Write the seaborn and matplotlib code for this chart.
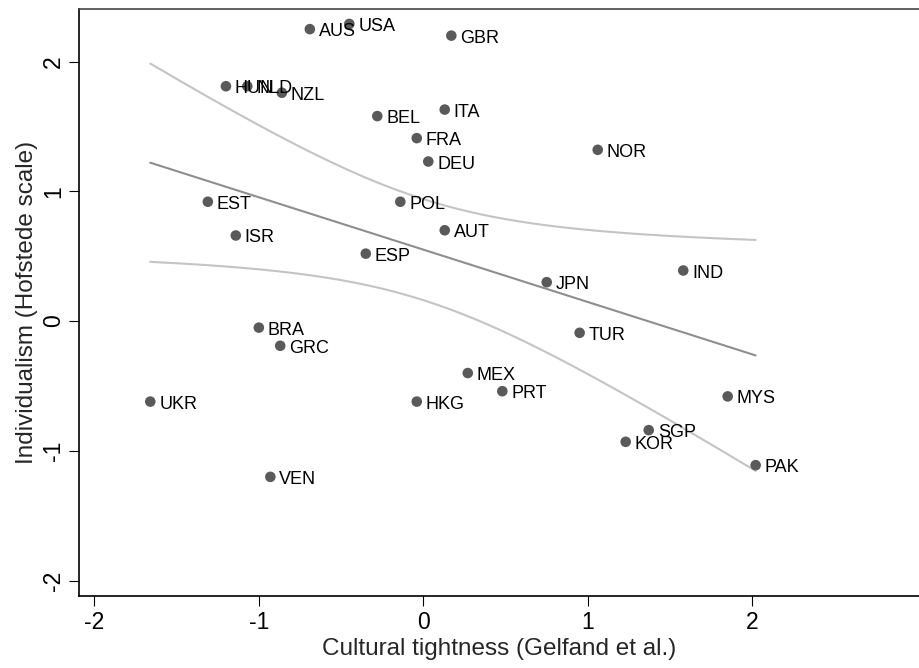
import matplotlib
matplotlib.use("Agg")
import matplotlib.pyplot as plt
import numpy as np
import pandas as pd
import seaborn as sns

countries = ["AUS", "USA", "GBR", "HUN", "NLD", "NZL", "BEL", "ITA", "FRA", "DEU",
             "NOR", "EST", "POL", "ISR", "AUT", "ESP", "JPN", "IND", "BRA", "GRC",
             "TUR", "MEX", "PRT", "HKG", "UKR", "MYS", "SGP", "KOR", "PAK", "VEN"]
tightness = [-0.69, -0.45, 0.17, -1.20, -1.07, -0.86, -0.28, 0.13, -0.04, 0.03,
             1.06, -1.31, -0.14, -1.14, 0.13, -0.35, 0.75, 1.58, -1.00, -0.87,
             0.95, 0.27, 0.48, -0.04, -1.66, 1.85, 1.37, 1.23, 2.02, -0.93]
individualism = [2.25, 2.29, 2.20, 1.81, 1.81, 1.76, 1.58, 1.63, 1.41, 1.23,
                 1.32, 0.92, 0.92, 0.66, 0.70, 0.52, 0.30, 0.39, -0.05, -0.19,
                 -0.09, -0.40, -0.54, -0.62, -0.62, -0.58, -0.84, -0.93, -1.11, -1.20]

df = pd.DataFrame({"country": countries, "x": tightness, "y": individualism})

# linear fit with 95% CI of the mean (like Stata lfitci)
x = df["x"].to_numpy()
y = df["y"].to_numpy()
n = len(x)
b1, b0 = np.polyfit(x, y, 1)
resid = y - (b0 + b1 * x)
s = np.sqrt((resid ** 2).sum() / (n - 2))
t_crit = 2.048  # t(0.975, df=28)
grid = np.linspace(x.min(), x.max(), 200)
fit = b0 + b1 * grid
se = s * np.sqrt(1 / n + (grid - x.mean()) ** 2 / ((x - x.mean()) ** 2).sum())
fit_df = pd.DataFrame({"x": grid, "fit": fit, "lo": fit - t_crit * se, "hi": fit + t_crit * se})

sns.set_style("white")
plt.rcParams["font.family"] = ["Liberation Sans", "DejaVu Sans"]
plt.rcParams["axes.unicode_minus"] = False

fig = plt.figure(figsize=(9.19, 6.68), dpi=100)
ax = fig.add_axes([0.086, 0.108, 0.914, 0.8785])

sns.lineplot(data=fit_df, x="x", y="hi", color="#c4c4c4", lw=1.5, ax=ax)
sns.lineplot(data=fit_df, x="x", y="lo", color="#c4c4c4", lw=1.5, ax=ax)
sns.lineplot(data=fit_df, x="x", y="fit", color="#8e8e8e", lw=1.5, ax=ax)
sns.scatterplot(data=df, x="x", y="y", color="#5a5a5a", s=58, edgecolor="none", ax=ax, zorder=3)

for _, r in df.iterrows():
    ax.annotate(r["country"], (r["x"], r["y"]), xytext=(6.5, -1.8), textcoords="offset points",
                ha="left", va="center", fontsize=13, color="black")

ax.set_xlim(-2.093, 3.013)
ax.set_ylim(-2.117, 2.405)
ax.set_xticks([-2, -1, 0, 1, 2])
ax.set_yticks([-2, -1, 0, 1, 2])
ax.tick_params(axis="both", direction="out", length=7, width=0.8, colors="black",
               labelsize=16.5, left=True, bottom=True)
ax.tick_params(axis="x", pad=4)
ax.tick_params(axis="y", pad=3)
for lab in ax.get_yticklabels():
    lab.set_rotation(90)
    lab.set_va("center")
ax.set_xlabel("Cultural tightness (Gelfand et al.)", fontsize=17.5, labelpad=3)
ax.set_ylabel("Individualism (Hofstede scale)", fontsize=17.5, labelpad=3)

for side in ["left", "bottom"]:
    ax.spines[side].set_color("black")
    ax.spines[side].set_linewidth(1.2)
ax.spines["top"].set_color("#444444")
ax.spines["top"].set_linewidth(1.2)
ax.spines["right"].set_visible(False)

fig.savefig("out.png", dpi=100)
